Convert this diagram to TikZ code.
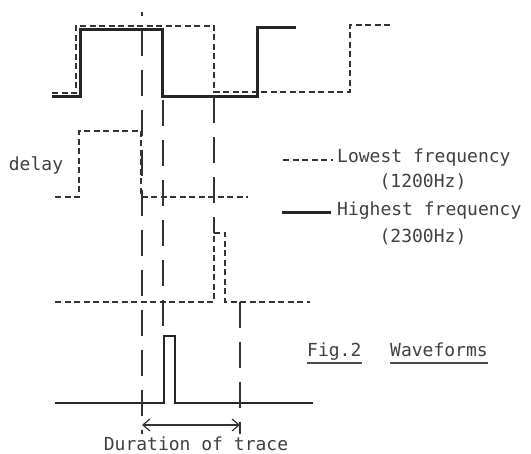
\documentclass[tikz,border=0pt]{standalone}
\usepackage{fontspec}
\setmonofont{DejaVu Sans Mono}
\usetikzlibrary{arrows.meta}

\begin{document}
\begin{tikzpicture}[x=1pt,y=-1pt,
  >={Straight Barb[length=7pt,width=12pt]},
  every node/.style={font=\fontsize{18}{20}\selectfont\ttfamily,text=black!75,inner sep=0pt},
  low/.style={line width=2pt,dash pattern=on 6pt off 3.5pt,black!80},
  high/.style={line width=3pt,black!85},
  guide/.style={line width=1.5pt,dash pattern=on 26pt off 14pt,black!80},
  uline/.style={line width=1.3pt,black!70}]
  \useasboundingbox (0,0) rectangle (531,454);

  % top trace: both frequencies
  \draw[low] (52,93) -- (76,93) -- (76,26) -- (214,26) -- (214,92) -- (350,92) -- (350,25) -- (392,25);
  \draw[high] (52,97) -- (80,97) -- (80,30) -- (162,30) -- (162,97) -- (257,97) -- (257,28) -- (296,28);

  % delayed trace
  \draw[low] (55,197) -- (79,197) -- (79,131) -- (141,131) -- (141,197) -- (248,197);
  \node (delay) at (36,165) {delay};

  % third trace
  \draw[low] (55,302) -- (214,302) -- (214,233) -- (225,233) -- (225,302) -- (310,302);

  % output pulse
  \draw[high,line width=2.6pt] (55,403) -- (164,403) -- (164,336) -- (175,336) -- (175,403) -- (313,403);

  % timing guides
  \draw[guide,dash phase=22pt] (142,12) -- (142,434);
  \draw[guide] (163,100) -- (163,336);
  \draw[guide] (214,97) -- (214,233);
  \draw[guide] (240,302) -- (240,434);

  % duration
  \coordinate (durA) at (142,425);
  \coordinate (durB) at (240,425);
  \draw[<->,line width=1.2pt,black!80] (durA) -- (durB);
  \node[anchor=base] (durtxt) at (196,451) {Duration of trace};

  % legend
  \node[anchor=mid west] (lowtxt) at (337,160) {Lowest frequency};
  \node (lowhz) at (423,182) {(1200Hz)};
  \coordinate (lowkey) at (283,160);
  \draw[low] (lowkey) -- ([xshift=-4pt]lowtxt.mid west);
  \node[anchor=mid west] (hightxt) at (337,213) {Highest frequency};
  \node (highhz) at (423,237) {(2300Hz)};
  \coordinate (highkey) at (282,213);
  \draw[high] (highkey) -- ([xshift=-6pt]hightxt.mid west);

  % caption
  \node[anchor=base west] (figlbl) at (307,357) {Fig.2};
  \node[anchor=base west] (figtitle) at (390,357) {Waveforms};
  \draw[uline] ([yshift=-6pt]figlbl.base west) -- ([yshift=-6pt]figlbl.base east);
  \draw[uline] ([yshift=-6pt]figtitle.base west) -- ([yshift=-6pt]figtitle.base east);
\end{tikzpicture}
\end{document}
